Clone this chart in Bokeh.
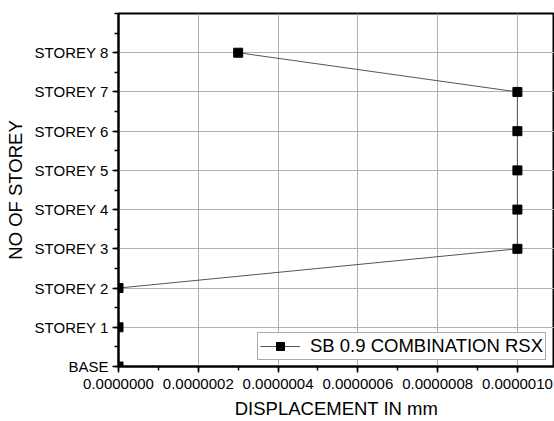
from bokeh.plotting import figure
from bokeh.models import FixedTicker, Range1d, Legend, LegendItem
from bokeh.embed import file_html
from bokeh.resources import INLINE

storey_labels = ["BASE", "STOREY 1", "STOREY 2", "STOREY 3", "STOREY 4",
                 "STOREY 5", "STOREY 6", "STOREY 7", "STOREY 8"]
storey_level = [0, 1, 2, 3, 4, 5, 6, 7, 8]
displacement = [0.0, 0.0, 0.0, 1.0e-6, 1.0e-6, 1.0e-6, 1.0e-6, 1.0e-6, 3.0e-7]
x_ticks = [0.0, 2e-7, 4e-7, 6e-7, 8e-7, 1e-6]
x_tick_labels = ["0.0000000", "0.0000002", "0.0000004", "0.0000006", "0.0000008", "0.0000010"]
series_name = "SB 0.9 COMBINATION RSX"

FONT = "Liberation Sans"

p = figure(width=554, height=421, output_backend="svg", toolbar_location=None,
           x_range=Range1d(0, 1.093e-6), y_range=Range1d(0, 9),
           min_border_left=118, min_border_right=0, min_border_top=13, min_border_bottom=55)

p.background_fill_color = "white"
p.border_fill_color = "white"
p.outline_line_color = "black"
p.outline_line_width = 2

ln = p.line(displacement, storey_level, line_color="#555555", line_width=1)
sc = p.scatter(displacement, storey_level, marker="square", size=9, fill_color="black", line_color="black")

p.xaxis.ticker = FixedTicker(ticks=x_ticks, minor_ticks=[i * 1e-7 for i in range(0, 11)])
p.xaxis.major_label_overrides = {t: l for t, l in zip(x_ticks, x_tick_labels)}
p.yaxis.ticker = FixedTicker(ticks=storey_level, minor_ticks=[i * 0.5 for i in range(0, 19)])
p.yaxis.major_label_overrides = {t: l for t, l in zip(storey_level, storey_labels)}

for ax in (p.xaxis[0], p.yaxis[0]):
    ax.axis_line_width = 2
    ax.axis_line_color = "black"
    ax.major_tick_line_color = "black"
    ax.minor_tick_line_color = "black"
    ax.major_tick_line_width = 1.5
    ax.minor_tick_line_width = 1.5
    ax.major_tick_out = 6
    ax.major_tick_in = 0
    ax.minor_tick_out = 4
    ax.minor_tick_in = 0
    ax.major_label_text_font = FONT
    ax.major_label_text_font_size = "15px"
    ax.major_label_text_color = "black"
    ax.axis_label_text_font = FONT
    ax.axis_label_text_font_size = "18.5px"
    ax.axis_label_text_font_style = "normal"
    ax.axis_label_text_color = "black"

p.xaxis.axis_label = "DISPLACEMENT IN mm"
p.yaxis.axis_label = "NO OF STOREY"
p.xaxis.axis_label_standoff = 6
p.yaxis.axis_label_standoff = 6
p.xaxis.major_label_standoff = 6
p.yaxis.major_label_standoff = 4

p.xgrid.ticker = FixedTicker(ticks=x_ticks)
p.ygrid.ticker = FixedTicker(ticks=storey_level)
p.grid.grid_line_color = "#b0b0b0"
p.grid.grid_line_width = 1

legend = Legend(items=[LegendItem(label=series_name, renderers=[ln, sc])],
                location=(139, 6))
legend.label_text_font = FONT
legend.label_text_font_size = "18.5px"
legend.label_text_color = "black"
legend.border_line_color = "#555555"
legend.border_line_width = 1
legend.padding = 2
legend.margin = 0
legend.spacing = 0
legend.glyph_width = 40
legend.label_standoff = 10
p.add_layout(legend, "center")

open("out.html", "w").write(file_html(p, INLINE))
